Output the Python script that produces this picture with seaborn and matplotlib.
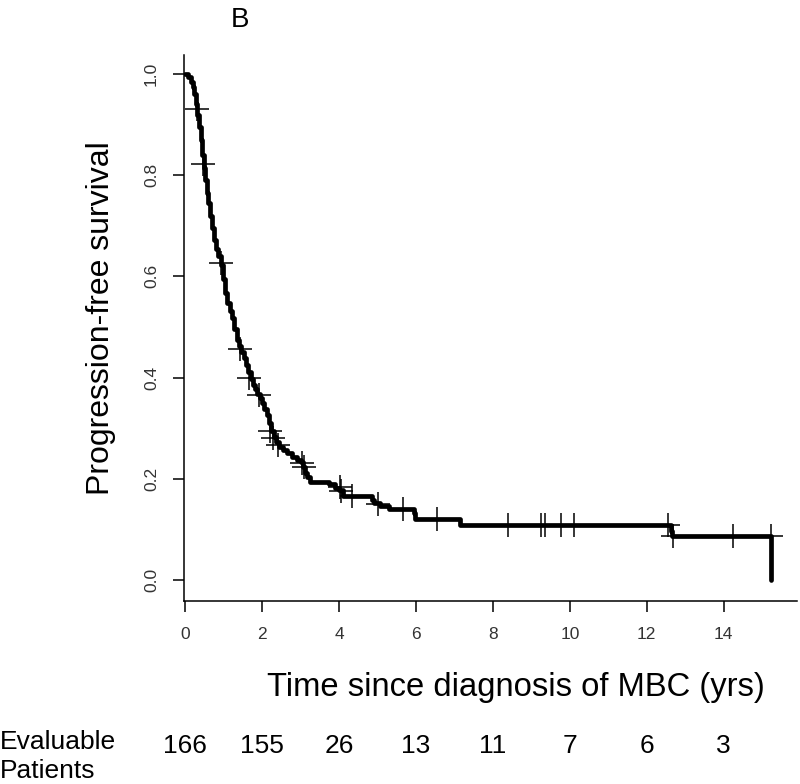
import numpy as np
import pandas as pd
import matplotlib
matplotlib.use("Agg")
import matplotlib.pyplot as plt
import matplotlib.transforms as mtransforms
import seaborn as sns

# ---- data ----
pfs_time = [0.00, 0.08, 0.15, 0.20, 0.24, 0.28, 0.32, 0.36, 0.40, 0.44, 0.48, 0.52,
            0.56, 0.60, 0.65, 0.70, 0.75, 0.80, 0.86, 0.92, 0.98, 1.04, 1.10, 1.16,
            1.22, 1.28, 1.34, 1.40, 1.46, 1.52, 1.58, 1.64, 1.70, 1.76, 1.82, 1.88,
            1.94, 2.00, 2.06, 2.12, 2.18, 2.24, 2.30, 2.36, 2.45, 2.55, 2.65, 2.78,
            2.90, 3.00, 3.06, 3.12, 3.18, 3.25, 3.75, 3.90, 4.00, 4.10, 4.85, 4.90,
            5.06, 5.30, 5.95, 5.98, 7.14, 12.62, 12.65, 15.24]
pfs_surv = [1.000, 0.995, 0.985, 0.975, 0.960, 0.940, 0.920, 0.895, 0.870, 0.840, 0.815, 0.790,
            0.765, 0.745, 0.720, 0.695, 0.672, 0.655, 0.640, 0.622, 0.595, 0.568, 0.548, 0.532,
            0.518, 0.495, 0.475, 0.462, 0.450, 0.438, 0.425, 0.410, 0.398, 0.386, 0.377, 0.368,
            0.360, 0.350, 0.338, 0.325, 0.310, 0.295, 0.282, 0.272, 0.263, 0.257, 0.250, 0.242,
            0.237, 0.232, 0.224, 0.212, 0.203, 0.194, 0.190, 0.182, 0.178, 0.166, 0.158, 0.152,
            0.146, 0.140, 0.132, 0.121, 0.108, 0.097, 0.086, 0.000]

censor_time = [0.30, 0.46, 0.92, 1.43, 1.66, 1.92, 2.21, 2.29, 2.42, 3.03, 3.08,
               4.03, 4.06, 4.33, 5.02, 5.66, 6.54, 8.38, 9.26, 9.35, 9.77, 10.11,
               12.54, 12.68, 14.24, 15.24]
censor_surv = [0.931, 0.822, 0.626, 0.457, 0.400, 0.366, 0.294, 0.280, 0.267, 0.231, 0.224,
               0.184, 0.176, 0.165, 0.149, 0.139, 0.121, 0.108, 0.108, 0.108, 0.108, 0.108,
               0.108, 0.086, 0.086, 0.086]

x_ticks = [0, 2, 4, 6, 8, 10, 12, 14]
y_ticks = [0.0, 0.2, 0.4, 0.6, 0.8, 1.0]
risk_times = [0, 2, 4, 6, 8, 10, 12, 14]
risk_counts = [166, 155, 26, 13, 11, 7, 6, 3]

curve = pd.DataFrame({"t": pfs_time, "s": pfs_surv})
cens = pd.DataFrame({"t": censor_time, "s": censor_surv})

# ---- style ----
sns.set_theme(style="ticks")
plt.rcParams["font.family"] = ["Liberation Sans", "DejaVu Sans"]

fig = plt.figure(figsize=(8.0, 7.84), dpi=100)
ax = fig.add_axes([0.23, 0.2334, 0.766, 0.6966])

sns.lineplot(data=curve, x="t", y="s", ax=ax, color="black", linewidth=3.4,
             drawstyle="steps-post", estimator=None, sort=False)
sns.scatterplot(data=cens, x="t", y="s", ax=ax, marker="+", s=300,
                color="black", linewidth=1.1, zorder=3)

ax.set_xlim(-0.03, 15.9)
ax.set_ylim(-0.042, 1.038)
ax.set_xticks(x_ticks)
ax.set_xticklabels([str(v) for v in x_ticks])
ax.set_yticks(y_ticks)
ax.set_yticklabels([f"{v:.1f}" for v in y_ticks], rotation=90, va="center")

for sp in ["top", "right"]:
    ax.spines[sp].set_visible(False)
for sp in ["left", "bottom"]:
    ax.spines[sp].set_color("black")
    ax.spines[sp].set_linewidth(1.1)

ax.tick_params(axis="both", direction="out", length=8, width=1.1, color="black",
               labelsize=12.5, labelcolor="#333333")
ax.tick_params(axis="x", pad=11)
ax.tick_params(axis="y", pad=10)

ax.set_xlabel("Time since diagnosis of MBC (yrs)", fontsize=23.6, labelpad=21, color="black")
ax.set_ylabel("Progression-free survival", fontsize=23, labelpad=20, color="black")
ax.xaxis.label.set_x(0.5416)
ax.yaxis.label.set_y(0.518)

fig.text(0.30, 0.975, "B", fontsize=20, ha="center", va="center", color="black")

# risk table
trans = mtransforms.blended_transform_factory(ax.transData, fig.transFigure)
for t, n in zip(risk_times, risk_counts):
    ax.text(t, 0.049, str(n), transform=trans, ha="center", va="center",
            fontsize=19, color="black", clip_on=False)
fig.text(0.0, 0.054, "Evaluable", fontsize=19, ha="left", va="center", color="black")
fig.text(0.0, 0.016, "Patients", fontsize=19, ha="left", va="center", color="black")

fig.savefig("out.png", dpi=100, facecolor="white")
